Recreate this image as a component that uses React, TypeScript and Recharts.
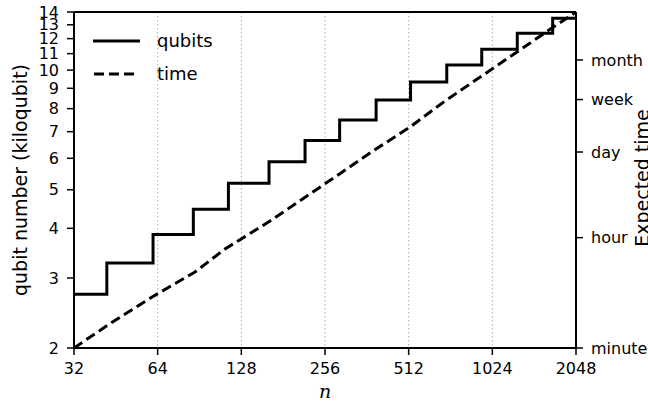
import { CartesianGrid, Line, LineChart, ReferenceLine, XAxis, YAxis } from "recharts";

const xTicks = [32, 64, 128, 256, 512, 1024, 2048];
const qubitTicks = [2, 3, 4, 5, 6, 7, 8, 9, 10, 11, 12, 13, 14];
const timeTicks = [1, 60, 1440, 10080, 43830];
const timeLabels = ["minute", "hour", "day", "week", "month"];

// qubits (kiloqubit), step function
const stepN = [32, 42, 61.6, 86, 115, 161, 217, 289, 391, 520, 702, 938, 1259, 1688, 2048];
const stepQubits = [2.73, 3.27, 3.86, 4.47, 5.19, 5.88, 6.65, 7.49, 8.41, 9.34, 10.3, 11.28, 12.38, 13.5, 13.5];

// expected time, in minutes
const timeN = [32, 42.4, 61.1, 87.2, 111.8, 162.3, 292, 381, 518, 692, 1256, 1678, 2048];
const timeMinutes = [1, 2.35, 6.63, 16.8, 39.4, 111, 661, 1495, 3641, 9560, 58900, 143500, 259000];

const qubitData = stepN.map((n, i) => ({ n, q: stepQubits[i] }));
const timeData = timeN.map((n, i) => ({ n, t: timeMinutes[i] }));

const FONT = "DejaVu Sans";
const tickStyle = { fontFamily: FONT, fontSize: 16, fill: "#000" };

function LegendBox() {
  return (
    <svg width={160} height={70} style={{ position: "absolute", left: 88, top: 31 }}>
      <line x1={5} y1={10} x2={52} y2={10} stroke="#000" strokeWidth={3} />
      <text x={69} y={16} style={{ fontFamily: FONT, fontSize: 18 }}>qubits</text>
      <line x1={6} y1={43} x2={50} y2={43} stroke="#000" strokeWidth={3} strokeDasharray="10 5" />
      <text x={69} y={49} style={{ fontFamily: FONT, fontSize: 18 }}>time</text>
    </svg>
  );
}

export default function App() {
  return (
    <div style={{ position: "absolute", left: 0, top: 0, width: 648, height: 412, background: "#fff", overflow: "hidden" }}>
      <LineChart width={648} height={412} margin={{ top: 12, right: 0, left: 0, bottom: 0 }}>
        <CartesianGrid horizontal={false} stroke="#aaaaaa" strokeDasharray="1.5 2.5" yAxisId="left" />
        <XAxis
          dataKey="n"
          type="number"
          scale="log"
          domain={[32, 2048]}
          ticks={xTicks}
          allowDataOverflow
          height={64}
          tick={tickStyle}
          tickSize={7}
          tickMargin={8}
          axisLine={{ stroke: "#000", strokeWidth: 2 }}
          tickLine={{ stroke: "#000", strokeWidth: 1.5 }}
          label={{
            content: () => (
              <text x={325} y={398} textAnchor="middle" style={{ fontFamily: "DejaVu Serif", fontStyle: "italic", fontSize: 19 }}>
                n
              </text>
            ),
          }}
        />
        <YAxis
          yAxisId="left"
          scale="log"
          domain={[2, 14]}
          ticks={qubitTicks}
          allowDataOverflow
          width={74}
          tick={tickStyle}
          tickSize={7}
          tickMargin={8}
          interval={0}
          axisLine={{ stroke: "#000", strokeWidth: 2 }}
          tickLine={{ stroke: "#000", strokeWidth: 1.5 }}
          label={{
            content: () => (
              <text x={27} y={180} transform="rotate(-90 27 180)" textAnchor="middle" style={{ fontFamily: FONT, fontSize: 19 }}>
                qubit number (kiloqubit)
              </text>
            ),
          }}
        />
        <YAxis
          yAxisId="right"
          orientation="right"
          scale="log"
          domain={[1, 259800]}
          ticks={timeTicks}
          allowDataOverflow
          width={72}
          tick={tickStyle}
          tickSize={7}
          tickMargin={8}
          interval={0}
          tickFormatter={(v: number) => timeLabels[timeTicks.indexOf(v)] ?? ""}
          axisLine={{ stroke: "#000", strokeWidth: 2 }}
          tickLine={{ stroke: "#000", strokeWidth: 1.5 }}
          label={{
            content: () => (
              <text x={649} y={178} transform="rotate(-90 649 178)" textAnchor="middle" style={{ fontFamily: FONT, fontSize: 19 }}>
                Expected time
              </text>
            ),
          }}
        />
        <ReferenceLine yAxisId="left" y={14} stroke="#000" strokeWidth={2} />
        <Line
          yAxisId="left"
          data={qubitData}
          dataKey="q"
          type="stepAfter"
          stroke="#000"
          strokeWidth={3}
          dot={false}
          isAnimationActive={false}
        />
        <Line
          yAxisId="right"
          data={timeData}
          dataKey="t"
          type="linear"
          stroke="#000"
          strokeWidth={3}
          strokeDasharray="10 5"
          dot={false}
          isAnimationActive={false}
        />
      </LineChart>
      <LegendBox />
    </div>
  );
}
